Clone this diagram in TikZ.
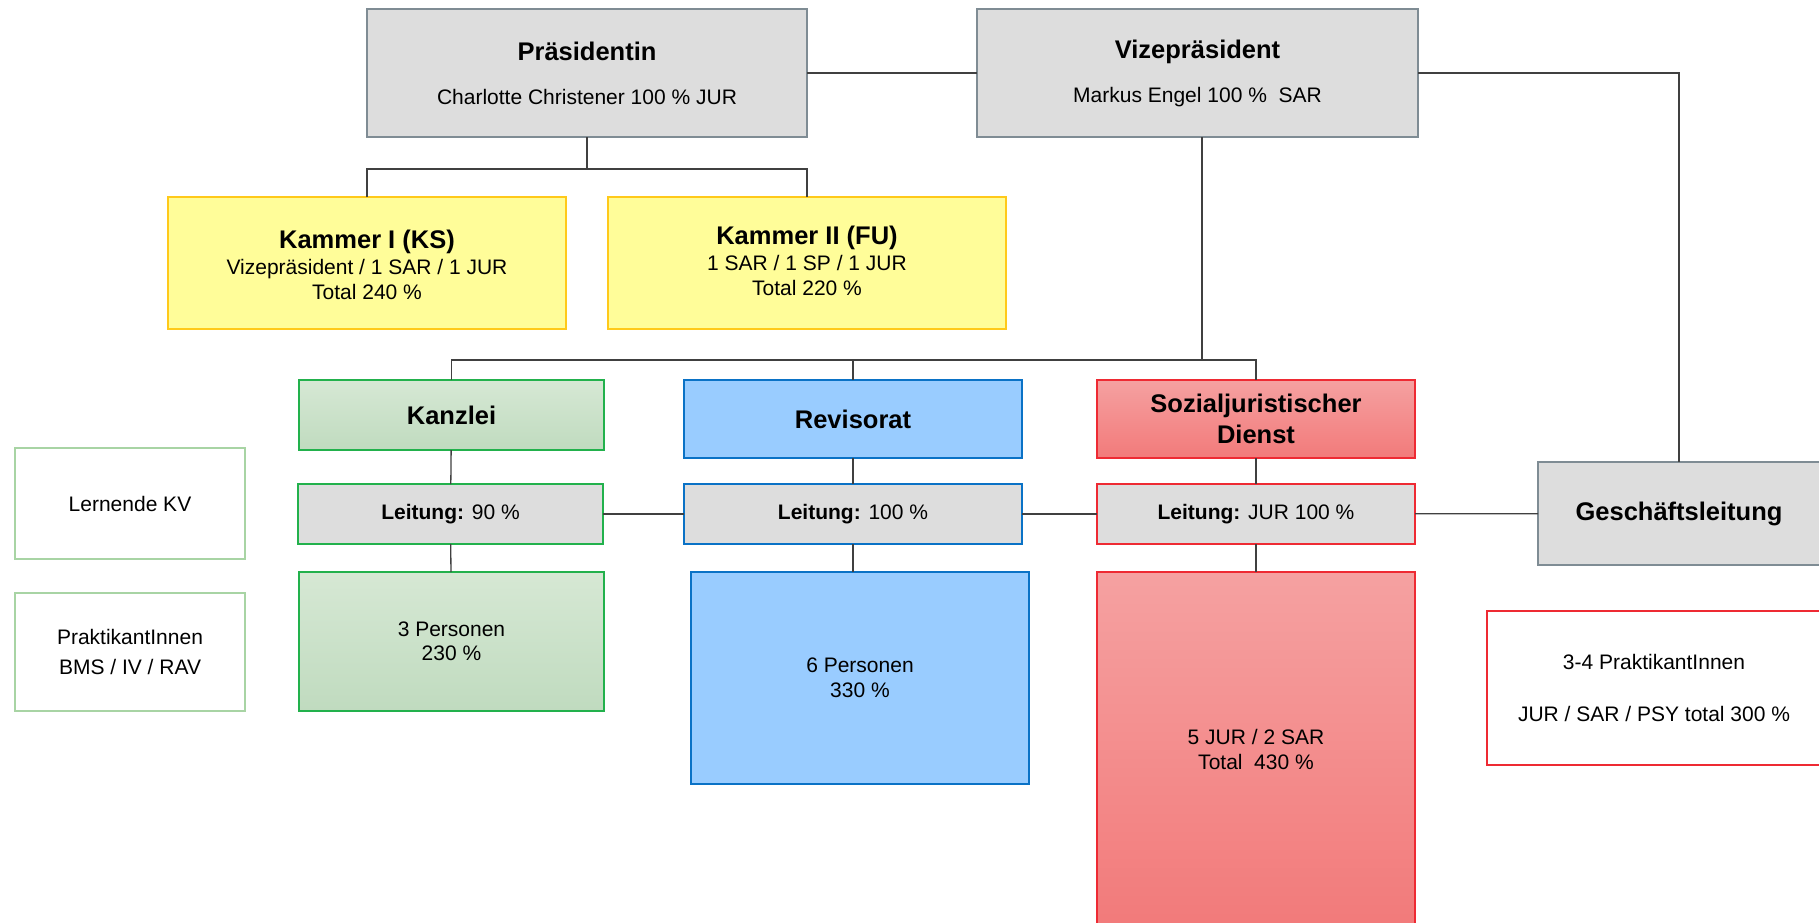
\documentclass[tikz,border=0pt]{standalone}
\usepackage{fontspec}
\setmainfont{Liberation Sans}
\definecolor{linec}{HTML}{404040}
\definecolor{grayfill}{HTML}{DDDDDD}
\definecolor{grayline}{HTML}{7F8C94}
\definecolor{yelfill}{HTML}{FFFD99}
\definecolor{yelline}{HTML}{FFC91A}
\definecolor{grnline}{HTML}{22B14C}
\definecolor{grntop}{HTML}{D6E8D4}
\definecolor{grnbot}{HTML}{C0DBBF}
\definecolor{bluefill}{HTML}{99CCFF}
\definecolor{blueline}{HTML}{0A72C6}
\definecolor{redline}{HTML}{EE2A33}
\definecolor{redtop}{HTML}{F5A1A1}
\definecolor{redbot}{HTML}{F27A7A}
\definecolor{lgrnline}{HTML}{A8D4A4}
\newcommand{\orgtitle}[1]{{\fontsize{25.5}{30}\selectfont\bfseries #1}}
\tikzset{
  base/.style={inner sep=0pt, outer sep=0pt, align=center, anchor=north west, text=black,
    font=\fontsize{21}{24.5}\selectfont},
  graybox/.style={base, draw=grayline, fill=grayfill, line width=1.8pt},
  yelbox/.style={base, draw=yelline, fill=yelfill, line width=1.5pt},
  grnbox/.style={base, draw=grnline, top color=grntop, bottom color=grnbot, line width=1.5pt},
  grnlead/.style={base, draw=grnline, fill=grayfill, line width=1.5pt},
  bluebox/.style={base, draw=blueline, fill=bluefill, line width=1.5pt},
  bluelead/.style={base, draw=blueline, fill=grayfill, line width=1.5pt},
  redbox/.style={base, draw=redline, top color=redtop, bottom color=redbot, line width=1.5pt},
  redlead/.style={base, draw=redline, fill=grayfill, line width=1.5pt},
  sidebox/.style={base, draw=lgrnline, fill=white, line width=2pt},
  redside/.style={base, draw=redline, fill=white, line width=2.4pt},
  conn/.style={draw=linec, line width=1.3pt},
}
\begin{document}
\begin{tikzpicture}[x=1pt,y=-1pt]
\useasboundingbox (0,0) rectangle (1819,922);
\clip (0,0) rectangle (1819,922);
\fill[white] (0,0) rectangle (1819,922);

% top row
\node[graybox, minimum width=440pt, minimum height=128pt] (praes) at (367,9)
  {\orgtitle{Präsidentin}\\[19.5pt]Charlotte Christener 100 \% JUR};
\node[graybox, minimum width=441pt, minimum height=128pt] (vize) at (977,9)
  {\orgtitle{Vizepräsident}\\[19.5pt]Markus Engel 100 \%\ \ SAR};

% chambers
\node[yelbox, minimum width=398pt, minimum height=132pt] (k1) at (168,197)
  {\rule{0pt}{22pt}\orgtitle{Kammer I (KS)}\\[2pt]Vizepräsident / 1 SAR / 1 JUR\\Total 240 \%};
\node[yelbox, minimum width=398pt, minimum height=132pt] (k2) at (608,197)
  {\orgtitle{Kammer II (FU)}\\[2pt]1 SAR / 1 SP / 1 JUR\\Total 220 \%\rule[-5pt]{0pt}{5pt}};

% departments
\node[grnbox, minimum width=305pt, minimum height=70pt] (kanz) at (299,380)
  {\orgtitle{Kanzlei}};
\node[bluebox, minimum width=338pt, minimum height=78pt] (rev) at (684,380)
  {\orgtitle{Revisorat}};
\node[redbox, minimum width=318pt, minimum height=78pt,
  font=\fontsize{25.5}{31}\selectfont\bfseries] (sjd) at (1097,380)
  {Sozialjuristischer\\Dienst};

% leads
\node[grnlead, minimum width=305pt, minimum height=60pt] (kanzL) at (298,484)
  {\textbf{Leitung:} 90 \%};
\node[bluelead, minimum width=338pt, minimum height=60pt] (revL) at (684,484)
  {\textbf{Leitung:} 100 \%};
\node[redlead, minimum width=318pt, minimum height=60pt] (sjdL) at (1097,484)
  {\textbf{Leitung:} JUR 100 \%};
\node[graybox, minimum width=282pt, minimum height=103pt] (gl) at (1538,462)
  {\orgtitle{Geschäftsleitung}};

% staff
\node[grnbox, minimum width=305pt, minimum height=139pt] (kanzP) at (299,572)
  {3 Personen\\230 \%};
\node[bluebox, minimum width=338pt, minimum height=212pt] (revP) at (691,572)
  {6 Personen\\330 \%};
\node[redbox, minimum width=318pt, minimum height=355pt] (sjdP) at (1097,572)
  {5 JUR / 2 SAR\\Total\ \ 430 \%};

% side boxes
\node[sidebox, minimum width=230pt, minimum height=111pt] (lern) at (15,448)
  {Lernende KV};
\node[sidebox, minimum width=230pt, minimum height=118pt] (prakL) at (15,593)
  {PraktikantInnen\\[5.5pt]BMS / IV / RAV};
\node[redside, minimum width=334pt, minimum height=154pt] (prakR) at (1487,611)
  {3-4 PraktikantInnen\\[27pt]JUR / SAR / PSY total 300 \%};

% connectors
\draw[conn] (praes.south) -- ++(0,32) coordinate (pbus);
\draw[conn] (k1.north) |- (pbus) -| (k2.north);
\draw[conn] (praes.east) -- (praes.east -| vize.west);
\draw[conn] (vize.east |- praes.east) -| (gl.north);
\coordinate (vbus) at (1202,360);
\draw[conn] (vize.south -| vbus) -- (vbus);
\draw[conn] (kanz.north) |- (vbus);
\draw[conn] (rev.north) |- (vbus);
\draw[conn] (sjd.north) |- (vbus);
\draw[conn] (kanz) -- (kanzL);
\draw[conn] (kanzL) -- (kanzP);
\draw[conn] (rev) -- (revL);
\draw[conn] (revL.south) -- (revL.south |- revP.north);
\draw[conn] (sjd) -- (sjdL);
\draw[conn] (sjdL) -- (sjdP);
\draw[conn] (kanzL) -- (revL);
\draw[conn] (revL) -- (sjdL);
\draw[conn] (sjdL) -- (gl);
\end{tikzpicture}
\end{document}
